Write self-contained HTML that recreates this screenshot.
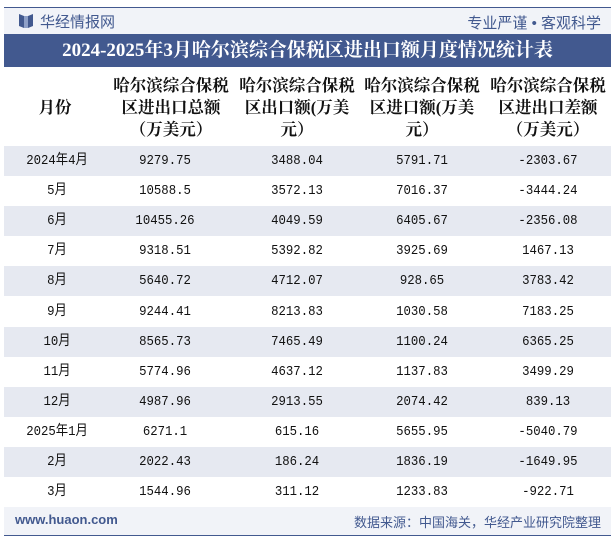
<!DOCTYPE html>
<html><head><meta charset="utf-8">
<style>
*{margin:0;padding:0;box-sizing:border-box}
body{width:615px;height:540px;background:#fff;position:relative;overflow:hidden;font-family:"Liberation Sans","Noto Sans CJK SC",sans-serif}
.topline{position:absolute;left:4px;right:4px;top:7px;height:1px;background:#42598f}
.topband{position:absolute;left:4px;right:4px;top:8px;height:26px;background:#f1f3f8}
.logo{position:absolute;left:19px;top:13px;width:14px;height:16px}
.brand{position:absolute;left:40px;top:11px;font-size:15px;color:#42598f}
.slogan{position:absolute;right:14px;top:12px;font-size:15px;color:#42598f}
.title{position:absolute;left:4px;right:4px;top:34px;height:33px;background:#42598f;color:#fff;font-family:"Liberation Serif","Noto Serif CJK SC",serif;font-weight:bold;font-size:19px;text-align:center;line-height:33px}
.hdr{position:absolute;top:75px;font-family:"Liberation Serif","Noto Serif CJK SC",serif;font-weight:bold;font-size:16.5px;line-height:22px;text-align:center;color:#111}
.row{position:absolute;left:4px;right:4px;height:30px}
.cell{position:absolute;top:0;height:30px;line-height:30px;text-align:center;font-family:"Liberation Mono","Noto Sans CJK SC",monospace;font-size:14px;color:#111;transform:translateX(-50%) scaleX(0.88);white-space:nowrap}
.foot{position:absolute;left:4px;right:4px;top:507px;height:28px;background:#f1f3f8}
.botline{position:absolute;left:4px;right:4px;top:535px;height:1px;background:#42598f}
.url{position:absolute;left:15px;top:512px;font-size:13px;color:#42598f;font-weight:bold}
.src{position:absolute;right:14px;top:512px;font-size:13px;color:#42598f}
</style></head><body>
<div class="topline"></div>
<div class="topband"></div>
<svg class="logo" viewBox="0 0 14 16"><path d="M0 1 L5 3 L5 15 L0 13Z M9 3 L14 1 L14 13 L9 15Z" fill="#42598f"/><rect x="5" y="3" width="4" height="12" fill="#8ea0c8"/></svg>
<div class="brand">华经情报网</div>
<div class="slogan">专业严谨 • 客观科学</div>
<div class="title">2024-2025年3月哈尔滨综合保税区进出口额月度情况统计表</div>
<div class="hdr" style="left:27px;width:56px;top:97px">月份</div>
<div class="hdr" style="left:101px;width:140px">哈尔滨综合保税<br>区进出口总额<br>（万美元）</div>
<div class="hdr" style="left:227px;width:140px">哈尔滨综合保税<br>区出口额(万美<br>元）</div>
<div class="hdr" style="left:352px;width:140px">哈尔滨综合保税<br>区进口额(万美<br>元）</div>
<div class="hdr" style="left:478px;width:140px">哈尔滨综合保税<br>区进出口差额<br>（万美元）</div>
<div id="rows"></div>
<div class="foot"></div>
<div class="botline"></div>
<div class="url">www.huaon.com</div>
<div class="src">数据来源：中国海关，华经产业研究院整理</div>
<script>
const months=["2024年4月","5月","6月","7月","8月","9月","10月","11月","12月","2025年1月","2月","3月"];
const totals=["9279.75","10588.5","10455.26","9318.51","5640.72","9244.41","8565.73","5774.96","4987.96","6271.1","2022.43","1544.96"];
const exportsV=["3488.04","3572.13","4049.59","5392.82","4712.07","8213.83","7465.49","4637.12","2913.55","615.16","186.24","311.12"];
const importsV=["5791.71","7016.37","6405.67","3925.69","928.65","1030.58","1100.24","1137.83","2074.42","5655.95","1836.19","1233.83"];
const balances=["-2303.67","-3444.24","-2356.08","1467.13","3783.42","7183.25","6365.25","3499.29","839.13","-5040.79","-1649.95","-922.71"];
const cont=document.getElementById('rows');
const centers=[53,161,293,418,544];
months.forEach((m,i)=>{
  const r=document.createElement('div');
  r.className='row';
  
  
  r.style.top=(146+i*30.1)+'px';
  r.style.background=i%2===0?'#e6e9f1':'#fff';
  [m,totals[i],exportsV[i],importsV[i],balances[i]].forEach((v,j)=>{
    const c=document.createElement('div');
    c.className='cell';
    
    
    c.style.left=centers[j]+'px';
    c.textContent=v;
    r.appendChild(c);
  });
  cont.appendChild(r);
});
</script>
</body></html>
